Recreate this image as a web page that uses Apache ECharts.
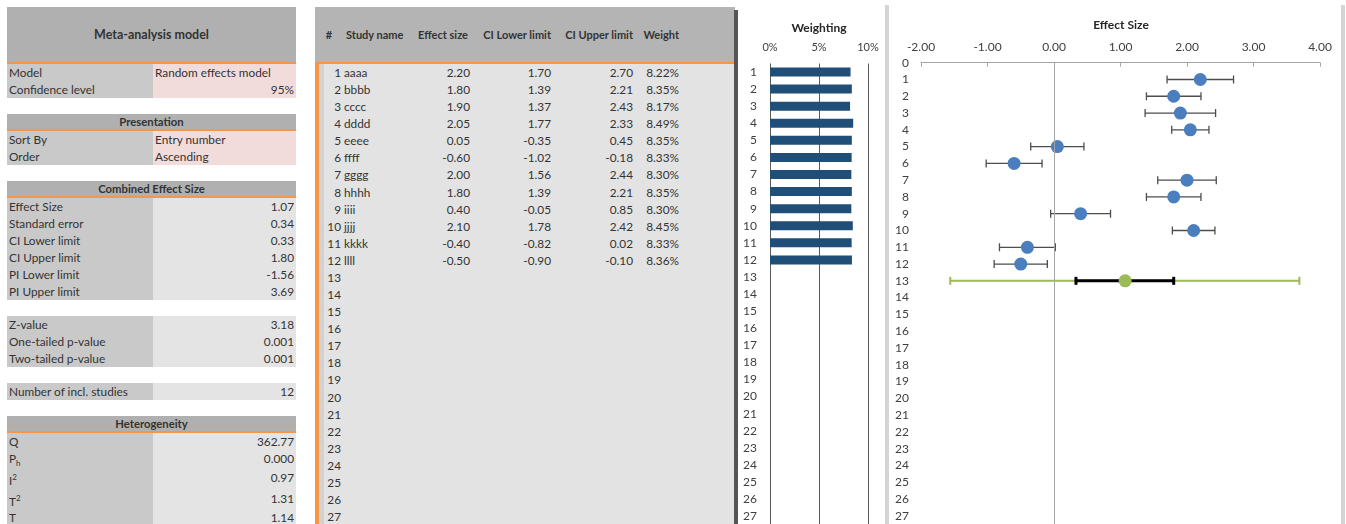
<!DOCTYPE html>
<html>
<head>
<meta charset="utf-8">
<script src="https://cdn.jsdelivr.net/npm/echarts@6/dist/echarts.min.js"></script>
<style>
  body { margin: 0; width: 1346px; height: 524px; overflow: hidden; background: #fff; position: relative;
         font-family: Lato, "Open Sans", sans-serif; font-size: 11.8px; color: #333; }
  #sheet { position: absolute; left: 0; top: 0; width: 1346px; height: 524px; }
  .c { position: absolute; box-sizing: border-box; white-space: nowrap; padding: 0 2px; overflow: visible; }
  #chart { position: absolute; left: 0; top: 0; width: 1346px; height: 560px; }
</style>
</head>
<body>
<div id="sheet"></div>
<div id="chart"></div>
<script>
// study data
const studyNames = ["aaaa", "bbbb", "cccc", "dddd", "eeee", "ffff", "gggg", "hhhh", "iiii", "jjjj", "kkkk", "llll"];
const effectSizes = [2.20, 1.80, 1.90, 2.05, 0.05, -0.60, 2.00, 1.80, 0.40, 2.10, -0.40, -0.50];
const ciLower = [1.70, 1.39, 1.37, 1.77, -0.35, -1.02, 1.56, 1.39, -0.05, 1.78, -0.82, -0.90];
const ciUpper = [2.70, 2.21, 2.43, 2.33, 0.45, -0.18, 2.44, 2.21, 0.85, 2.42, 0.02, -0.10];
const weights = [8.22, 8.35, 8.17, 8.49, 8.35, 8.33, 8.30, 8.35, 8.30, 8.45, 8.33, 8.36];

// combined result
const combinedEffect = 1.07;
const combinedCI = [0.33, 1.80];
const combinedPI = [-1.56, 3.69];
const combinedRow = 13;

// left panel
const modelRows = [["Model", "Random effects model"], ["Confidence level", "95%"]];
const presentationRows = [["Sort By", "Entry number"], ["Order", "Ascending"]];
const combinedRows = [["Effect Size", "1.07"], ["Standard error", "0.34"], ["CI Lower limit", "0.33"],
  ["CI Upper limit", "1.80"], ["PI Lower limit", "-1.56"], ["PI Upper limit", "3.69"]];
const testRows = [["Z-value", "3.18"], ["One-tailed p-value", "0.001"], ["Two-tailed p-value", "0.001"]];
const countRows = [["Number of incl. studies", "12"]];
const heteroRows = [["Q", "362.77"], ["P<sub style='font-size:8px'>h</sub>", "0.000"], ["I<sup style='font-size:8px'>2</sup>", "0.97"],
  ["T<sup style='font-size:8px'>2</sup>", "1.31"], ["T", "1.14"]];
const heteroHeights = [17, 17, 21, 21, 17];

const tableHeaders = [["#", 329, "center"], ["Study name", 346, "left"], ["Effect size", 470, "right"],
  ["CI Lower limit", 553, "right"], ["CI Upper limit", 635, "right"], ["Weight", 681, "right"]];
const weightCats = Array.from({ length: 28 }, (_, i) => String(i + 1));
const tableRowCount = 27;

const sheet = document.getElementById("sheet");
function box(x, y, w, h, bg, html, align, bold) {
  const d = document.createElement("div");
  d.className = "c";
  Object.assign(d.style, { left: x + "px", top: y + "px", width: w + "px", height: h + "px", lineHeight: h + "px" });
  if (bg) d.style.background = bg;
  if (align) d.style.textAlign = align;
  if (bold) d.style.fontWeight = "bold";
  if (html != null) d.innerHTML = html;
  sheet.appendChild(d);
  return d;
}

const ORANGE = "#f79646", HEAD = "#b0b0b0", LABEL = "#c9c9c9", PINK = "#f2dcdb", VAL = "#e4e4e4";
function section(top, title, titleH, rows, heights, valBg, valAlign, titleSize) {
  let y = top;
  if (title) {
    box(7, y, 289, titleH, HEAD, title, "center", true).style.fontSize = titleSize;
    y += titleH;
    box(7, y - 1, 289, 2, ORANGE);
    y += 1;
  }
  rows.forEach((r, i) => {
    const h = heights ? heights[i] : 17;
    box(7, y, 146, h, LABEL, r[0], "left");
    box(153, y, 143, h, valBg, r[1], valAlign[i] || "right");
    y += h;
  });
}
section(7, "Meta-analysis model", 56, modelRows, null, PINK, ["left", "right"], "12.5px");
section(114, "Presentation", 16, presentationRows, null, PINK, ["left", "left"], "11.3px");
section(181, "Combined Effect Size", 16, combinedRows, null, VAL, [], "11.3px");
section(316, null, 0, testRows, null, VAL, []);
section(383, null, 0, countRows, null, VAL, []);
section(416, "Heterogeneity", 16, heteroRows, heteroHeights, VAL, [], "11.3px");

// middle table
box(315, 7, 420, 56, "#b4b4b4");
box(315, 64, 420, 460, "#e3e3e3");
box(317, 64, 7, 460, "#d2d2d2");
box(315, 62, 420, 2, ORANGE);
box(315, 62, 2, 462, ORANGE);
box(734, 10, 2, 514, "#555");
tableHeaders.forEach(([t, x, a]) => {
  let d;
  if (a === "right") d = box(x - 100, 7, 100, 56, null, t, "right", true);
  else if (a === "center") d = box(x - 20, 7, 40, 56, null, t, "center", true);
  else d = box(x - 2, 7, 100, 56, null, t, "left", true);
  d.style.fontSize = "11px";
});
for (let i = 0; i < tableRowCount; i++) {
  const y = 64 + i * 17.08;
  box(301, y, 42, 17, null, String(i + 1), "right");
  if (i < studyNames.length) {
    box(342, y, 60, 17, null, studyNames[i], "left");
    box(412, y, 60, 17, null, effectSizes[i].toFixed(2), "right");
    box(493, y, 60, 17, null, ciLower[i].toFixed(2), "right");
    box(575, y, 60, 17, null, ciUpper[i].toFixed(2), "right");
    box(621, y, 60, 17, null, weights[i].toFixed(2) + "%", "right");
  }
}
// chart frames
box(885, 5, 1, 519, "#d4d4d4");
box(1341, 5, 1, 519, "#d4d4d4");

const FONT = "Lato, 'Open Sans', sans-serif";
const chart = echarts.init(document.getElementById("chart"), null, { renderer: "canvas" });

function errorBar(color, width, cap) {
  return (params, api) => {
    const a = api.coord([api.value(0), api.value(2)]);
    const b = api.coord([api.value(1), api.value(2)]);
    const style = { stroke: color, lineWidth: width };
    return {
      type: "group",
      children: [
        { type: "line", shape: { x1: a[0], y1: a[1], x2: b[0], y2: b[1] }, style },
        { type: "line", shape: { x1: a[0], y1: a[1] - cap, x2: a[0], y2: a[1] + cap }, style },
        { type: "line", shape: { x1: b[0], y1: b[1] - cap, x2: b[0], y2: b[1] + cap }, style },
      ],
    };
  };
}

chart.setOption({
  animation: false,
  textStyle: { fontFamily: FONT },
  graphic: [
    { type: "text", x: 819, y: 28, style: { text: "Weighting", align: "center", verticalAlign: "middle", font: "bold 12px " + FONT, fill: "#262626" } },
    { type: "text", x: 1121, y: 25, style: { text: "Effect Size", align: "center", verticalAlign: "middle", font: "bold 12px " + FONT, fill: "#262626" } },
  ],
  grid: [
    { left: 770, top: 63.5, width: 98, height: 28 * 17.08 },
    { left: 921, top: 62.7, width: 399, height: 28 * 16.78 },
  ],
  xAxis: [
    { gridIndex: 0, type: "value", position: "top", min: 0, max: 10, interval: 5,
      axisLabel: { formatter: "{value}%", margin: 11, color: "#404040", fontSize: 11 },
      axisLine: { show: false }, axisTick: { show: false },
      splitLine: { lineStyle: { color: "#5a5a5a", width: 1 } } },
    { gridIndex: 1, type: "value", position: "top", min: -2, max: 4, interval: 1,
      axisLabel: { formatter: v => v.toFixed(2), margin: 10, color: "#404040", fontSize: 12 },
      axisLine: { show: true, onZero: false, lineStyle: { color: "#a6a6a6" } },
      axisTick: { show: true, inside: true, length: 4, lineStyle: { color: "#a6a6a6" } },
      splitLine: { show: false } },
  ],
  yAxis: [
    { gridIndex: 0, type: "category", data: weightCats, inverse: true,
      axisLine: { show: false }, axisTick: { show: false },
      axisLabel: { margin: 13, interval: 0, color: "#404040", fontSize: 12 } },
    { gridIndex: 1, type: "value", min: 0, max: 28, interval: 1, inverse: true,
      axisLine: { show: false }, axisTick: { show: false }, splitLine: { show: false },
      axisLabel: { margin: 12, color: "#404040", fontSize: 12, showMaxLabel: false } },
  ],
  series: [
    { type: "bar", xAxisIndex: 0, yAxisIndex: 0, data: weights, barWidth: 9,
      itemStyle: { color: "#1f4e79" } },
    { type: "custom", xAxisIndex: 1, yAxisIndex: 1, encode: { x: [0, 1], y: 2 },
      data: studyNames.map((_, i) => [ciLower[i], ciUpper[i], i + 1]),
      renderItem: errorBar("#4d4d4d", 1.3, 4) },
    { type: "custom", xAxisIndex: 1, yAxisIndex: 1, encode: { x: [0, 1], y: 2 },
      data: [[combinedPI[0], combinedPI[1], combinedRow]],
      renderItem: errorBar("#9bbb59", 2, 4) },
    { type: "custom", xAxisIndex: 1, yAxisIndex: 1, encode: { x: [0, 1], y: 2 },
      data: [[combinedCI[0], combinedCI[1], combinedRow]],
      renderItem: errorBar("#000", 3, 4) },
    { type: "scatter", xAxisIndex: 1, yAxisIndex: 1, symbolSize: 13,
      data: effectSizes.map((v, i) => [v, i + 1]),
      itemStyle: { color: "#4a7ebf", opacity: 1 },
      markLine: { silent: true, symbol: "none", label: { show: false },
        lineStyle: { color: "#a6a6a6", type: "solid", width: 1 }, data: [{ xAxis: 0 }] } },
    { type: "scatter", xAxisIndex: 1, yAxisIndex: 1, symbolSize: 13,
      data: [[combinedEffect, combinedRow]], itemStyle: { color: "#9bbb59", opacity: 1 } },
  ],
});
</script>
</body>
</html>
